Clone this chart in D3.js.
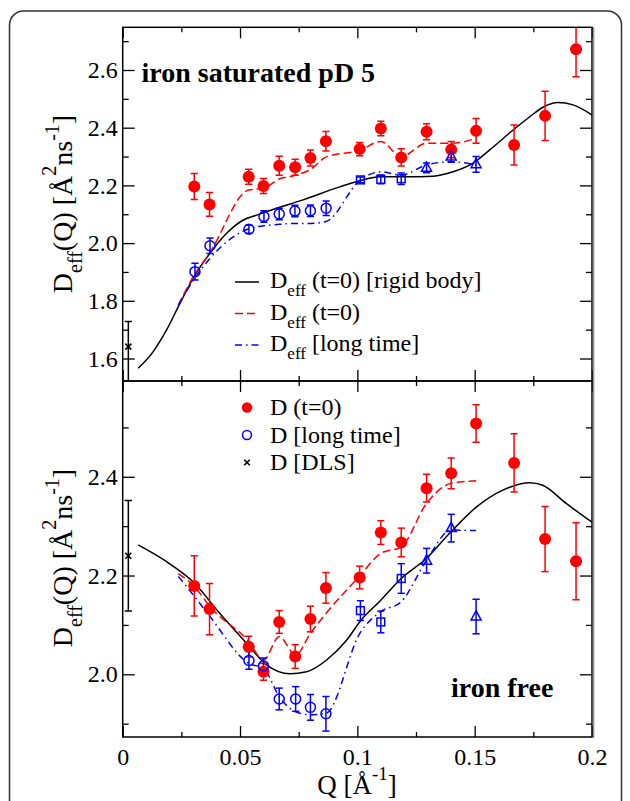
<!DOCTYPE html>
<html><head><meta charset="utf-8">
<script src="https://cdn.jsdelivr.net/npm/d3@7"></script>
<style>
html,body{margin:0;padding:0;background:#fff;}
text{font-family:"Liberation Serif","Times New Roman",serif;fill:#000;}
</style></head>
<body>
<svg id="chart" width="630" height="801"></svg>
<script>
// ---------------- DATA ----------------
// experimental Q values
const qRed = [0.0305,0.037,0.0537,0.060,0.0667,0.0735,0.080,0.0866,0.1010,0.110,0.1187,0.1295,0.140,0.1506,0.1668,0.180,0.1932];
// top panel (iron saturated pD 5)
const topRed = [2.196,2.134,2.230,2.198,2.268,2.263,2.295,2.353,2.326,2.397,2.297,2.386,2.324,2.389,2.340,2.441,2.672];
const topRedErr = [0.045,0.041,0.026,0.026,0.033,0.028,0.028,0.034,0.023,0.025,0.030,0.028,0.028,0.043,0.069,0.085,0.095];
const qCirc = [0.0308,0.0372,0.0538,0.0602,0.0667,0.0734,0.080,0.0867];
const topCirc = [1.901,1.991,2.048,2.092,2.101,2.111,2.112,2.121];
const topCircErr = [0.029,0.027,0.014,0.020,0.020,0.020,0.020,0.025];
const qSq = [0.1013,0.110,0.1187];
const topSq = [2.219,2.221,2.223];
const topSqErr = [0.010,0.015,0.020];
const qTri = [0.1295,0.140,0.1506];
const topTri = [2.261,2.300,2.273];
const topTriErr = [0.017,0.020,0.027];
// bottom panel (iron free)
const botRed = [2.179,2.132,2.056,2.005,2.106,2.036,2.112,2.175,2.196,2.287,2.267,2.377,2.407,2.508,2.428,2.274,2.229];
const botRedErr = [0.061,0.052,0.021,0.017,0.023,0.024,0.026,0.031,0.023,0.024,0.029,0.028,0.031,0.038,0.059,0.066,0.078];
const qCircBot = [0.0538,0.060,0.0667,0.0737,0.080,0.0866];
const botCirc = [2.028,2.017,1.950,1.950,1.933,1.920];
const botCircErr = [0.018,0.016,0.022,0.025,0.026,0.035];
const botSq = [2.129,2.106,2.194];
const botSqErr = [0.020,0.022,0.030];
const botTri = [2.230,2.296,2.117];
const botTriErr = [0.025,0.028,0.035];
// DLS
const qDLS = 0.0024;
const topDLS = 1.641, topDLSErrHi = 0.087, topDLSErrLo = 0.125;
const botDLS = 2.240, botDLSErr = 0.112;

// model curves, top panel
const qRigidTop = [0.0066,0.0130,0.0187,0.0244,0.0308,0.0372,0.0443,0.0514,0.0571,0.0656,0.0762,0.0925,0.1011,0.1096,0.121,0.1323,0.1408,0.1493,0.1564,0.1664,0.1735,0.1791,0.1855,0.1919,0.200];
const rigidTop = [1.566,1.624,1.699,1.791,1.889,1.965,2.034,2.080,2.097,2.121,2.148,2.195,2.216,2.230,2.230,2.232,2.247,2.277,2.323,2.392,2.438,2.471,2.487,2.479,2.444];
const qDashTop = [0.0237,0.0305,0.037,0.0537,0.060,0.0667,0.0735,0.080,0.0866,0.1010,0.110,0.1187,0.1295,0.140,0.1506];
const dashTop = [1.785,1.889,1.965,2.184,2.190,2.222,2.235,2.255,2.298,2.322,2.352,2.300,2.346,2.346,2.363];
const qDotTop = [0.0237,0.0308,0.0372,0.0538,0.0602,0.0667,0.0734,0.080,0.0867,0.1013,0.110,0.1187,0.1295,0.140,0.1506];
const dotTop = [1.785,1.880,1.947,2.050,2.060,2.065,2.068,2.068,2.075,2.219,2.247,2.236,2.271,2.282,2.271];
// model curves, bottom panel
const qRigidBot = [0.0066,0.0187,0.0307,0.0414,0.0528,0.0613,0.0713,0.0783,0.0869,0.0954,0.1013,0.110,0.1187,0.1295,0.140,0.1508,0.162,0.1735,0.179,0.189,0.200];
const rigidBot = [2.262,2.228,2.184,2.123,2.063,2.019,2.001,2.005,2.029,2.069,2.108,2.150,2.194,2.235,2.289,2.339,2.373,2.388,2.383,2.346,2.308];
const qDashBot = [0.0237,0.0307,0.0372,0.0538,0.060,0.0667,0.0737,0.080,0.0866,0.1008,0.110,0.1187,0.1295,0.140,0.1506];
const dashBot = [2.204,2.177,2.137,2.066,2.029,2.076,2.039,2.083,2.123,2.198,2.245,2.258,2.346,2.387,2.392];
const qDotBot = [0.0237,0.0307,0.0372,0.0538,0.060,0.0667,0.0737,0.080,0.0866,0.1013,0.110,0.1187,0.1295,0.140,0.1506];
const dotBot = [2.198,2.157,2.117,2.022,2.012,1.955,1.924,1.918,1.921,2.085,2.127,2.147,2.231,2.292,2.291];

// ticks
const xMajor = [0,0.05,0.1,0.15,0.2], xMinor = [0.025,0.075,0.125,0.175];
const yTopMajor = [1.6,1.8,2.0,2.2,2.4,2.6], yTopMinor = [1.7,1.9,2.1,2.3,2.5,2.7];
const yBotMajor = [2.0,2.2,2.4], yBotMinor = [1.9,2.1,2.3,2.5];

// ---------------- DRAW ----------------
const svg = d3.select("#chart");
const L = 122.7, R = 592, T = 27.3, MID = 381, B = 737;
const x = d3.scaleLinear().domain([0,0.2]).range([L,R]);
const yT = d3.scaleLinear().domain([1.522,2.748]).range([MID,T]);
const yB = d3.scaleLinear().domain([1.873,2.594]).range([B,MID]);
const RED = "#ff0000", BLUE = "#0000ff";

// outer rounded frame
svg.append("rect").attr("x",9.5).attr("y",11).attr("width",612).attr("height",830)
  .attr("rx",14).attr("fill","none").attr("stroke","#333").attr("stroke-width",1.5);

const defs = svg.append("defs");
function panel(id, y, y0, y1, yMaj, yMin, showX){
  defs.append("clipPath").attr("id",id).append("rect")
    .attr("x",L).attr("y",y0).attr("width",R-L).attr("height",y1-y0);
  const g = svg.append("g");
  g.append("g").attr("transform",`translate(${L},0)`)
    .call(d3.axisLeft(y).tickValues(yMaj).tickSize(-12).tickPadding(5).tickFormat(d3.format(".1f")));
  g.append("g").attr("transform",`translate(${L},0)`)
    .call(d3.axisLeft(y).tickValues(yMin).tickSize(-6).tickFormat(""));
  g.append("g").attr("transform",`translate(${R},0)`)
    .call(d3.axisRight(y).tickValues(yMaj).tickSize(-12).tickFormat(""));
  g.append("g").attr("transform",`translate(${R},0)`)
    .call(d3.axisRight(y).tickValues(yMin).tickSize(-6).tickFormat(""));
  g.append("g").attr("transform",`translate(0,${y1})`)
    .call(d3.axisBottom(x).tickValues(xMajor).tickSize(-11).tickPadding(showX?11:0)
      .tickFormat(showX ? (d => d===0 ? "0" : d3.format("")(d)) : ""));
  g.append("g").attr("transform",`translate(0,${y1})`)
    .call(d3.axisBottom(x).tickValues(xMinor).tickSize(-5).tickFormat(""));
  g.append("g").attr("transform",`translate(0,${y0})`)
    .call(d3.axisTop(x).tickValues(xMajor).tickSize(-11).tickFormat(""));
  g.append("g").attr("transform",`translate(0,${y0})`)
    .call(d3.axisTop(x).tickValues(xMinor).tickSize(-5).tickFormat(""));
  g.selectAll(".domain").remove();
  g.selectAll(".tick line").attr("stroke","#000").attr("stroke-width",1.3);
  g.selectAll(".tick text").attr("font-size",24).style("font-family","'Liberation Serif','Times New Roman',serif").attr("fill","#000");
  return svg.append("g").attr("clip-path",`url(#${id})`);
}

function drawLine(g, y, qs, vs, color, dash){
  const line = d3.line().x(d=>x(d[0])).y(d=>y(d[1])).curve(d3.curveMonotoneX);
  g.append("path").datum(qs.map((q,i)=>[q,vs[i]])).attr("d",line)
    .attr("fill","none").attr("stroke",color).attr("stroke-width",1.5)
    .attr("stroke-dasharray",dash||null);
}
function errBars(g, y, qs, vs, es, color, esLo){
  qs.forEach((q,i)=>{
    const cx = x(q), hi = y(vs[i]+es[i]), lo = y(vs[i]-(esLo?esLo[i]:es[i]));
    g.append("line").attr("x1",cx).attr("x2",cx).attr("y1",hi).attr("y2",lo).attr("stroke",color).attr("stroke-width",1.5);
    [hi,lo].forEach(yy=>g.append("line").attr("x1",cx-3.6).attr("x2",cx+3.6).attr("y1",yy).attr("y2",yy).attr("stroke",color).attr("stroke-width",1.5));
  });
}
function filled(g, y, qs, vs){
  g.selectAll(null).data(qs.map((q,i)=>[q,vs[i]])).join("circle")
    .attr("cx",d=>x(d[0])).attr("cy",d=>y(d[1])).attr("r",6).attr("fill",RED);
}
function openCirc(g, y, qs, vs){
  g.selectAll(null).data(qs.map((q,i)=>[q,vs[i]])).join("circle")
    .attr("cx",d=>x(d[0])).attr("cy",d=>y(d[1])).attr("r",5).attr("fill","none").attr("stroke",BLUE).attr("stroke-width",1.5);
}
function squares(g, y, qs, vs){
  g.selectAll(null).data(qs.map((q,i)=>[q,vs[i]])).join("rect")
    .attr("x",d=>x(d[0])-3.9).attr("y",d=>y(d[1])-3.9).attr("width",7.8).attr("height",7.8)
    .attr("fill","none").attr("stroke",BLUE).attr("stroke-width",1.5);
}
function triangles(g, y, qs, vs){
  g.selectAll(null).data(qs.map((q,i)=>[q,vs[i]])).join("path")
    .attr("d",d=>{const cx=x(d[0]),cy=y(d[1]);return `M${cx},${cy-5.8}L${cx+5},${cy+3.4}L${cx-5},${cy+3.4}Z`;})
    .attr("fill","none").attr("stroke",BLUE).attr("stroke-width",1.5);
}
function cross(g, cx, cy, s){
  g.append("path").attr("d",`M${cx-s},${cy-s}L${cx+s},${cy+s}M${cx-s},${cy+s}L${cx+s},${cy-s}`)
    .attr("stroke","#000").attr("stroke-width",1.6);
}

const DASH = "8,4", DOT = "7,4,1.5,4";

// ---- top panel
const gT = panel("clipT", yT, T, MID, yTopMajor, yTopMinor, false);
drawLine(gT, yT, qRigidTop, rigidTop, "#000");
drawLine(gT, yT, qDashTop, dashTop, RED, DASH);
drawLine(gT, yT, qDotTop, dotTop, BLUE, DOT);
errBars(gT, yT, qRed, topRed, topRedErr, RED);
errBars(gT, yT, qCirc, topCirc, topCircErr, BLUE);
errBars(gT, yT, qSq, topSq, topSqErr, BLUE);
errBars(gT, yT, qTri, topTri, topTriErr, BLUE);
errBars(gT, yT, [qDLS], [topDLS], [topDLSErrHi], "#000", [topDLSErrLo]);
filled(gT, yT, qRed, topRed);
openCirc(gT, yT, qCirc, topCirc);
squares(gT, yT, qSq, topSq);
triangles(gT, yT, qTri, topTri);
cross(gT, x(qDLS), yT(topDLS), 3);

// ---- bottom panel
const gB = panel("clipB", yB, MID, B, yBotMajor, yBotMinor, true);
drawLine(gB, yB, qRigidBot, rigidBot, "#000");
drawLine(gB, yB, qDashBot, dashBot, RED, DASH);
drawLine(gB, yB, qDotBot, dotBot, BLUE, DOT);
errBars(gB, yB, qRed, botRed, botRedErr, RED);
errBars(gB, yB, qCircBot, botCirc, botCircErr, BLUE);
errBars(gB, yB, qSq, botSq, botSqErr, BLUE);
errBars(gB, yB, qTri, botTri, botTriErr, BLUE);
errBars(gB, yB, [qDLS], [botDLS], [botDLSErr], "#000");
filled(gB, yB, qRed, botRed);
openCirc(gB, yB, qCircBot, botCirc);
squares(gB, yB, qSq, botSq);
triangles(gB, yB, qTri, botTri);
cross(gB, x(qDLS), yB(botDLS), 3);

// frames
[[T,MID],[MID,B]].forEach(([a,b])=>{
  svg.append("rect").attr("x",L).attr("y",a).attr("width",R-L).attr("height",b-a)
    .attr("fill","none").attr("stroke","#000").attr("stroke-width",1.5);
});
svg.append("line").attr("x1",R+1.6).attr("x2",R+1.6).attr("y1",T).attr("y2",B+1).attr("stroke","#999").attr("stroke-width",1.6);

// titles
svg.append("text").attr("x",141.5).attr("y",81.5).attr("font-size",28).attr("font-weight","bold").text("iron saturated pD 5");
svg.append("text").attr("x",451).attr("y",697).attr("font-size",28).attr("font-weight","bold").text("iron free");

// legend top
const legTop = [
  {sub:"eff", rest:" (t=0) [rigid body]", color:"#000", dash:null},
  {sub:"eff", rest:" (t=0)", color:RED, dash:DASH},
  {sub:"eff", rest:" [long time]", color:BLUE, dash:DOT}
];
legTop.forEach((d,i)=>{
  const by = 288 + i*31.5;
  svg.append("line").attr("x1",235).attr("x2",259).attr("y1",by-6).attr("y2",by-6)
    .attr("stroke",d.color).attr("stroke-width",1.5).attr("stroke-dasharray",d.dash);
  const t = svg.append("text").attr("x",270).attr("y",by).attr("font-size",24);
  t.append("tspan").text("D");
  t.append("tspan").attr("dy",8).attr("font-size",17).text(d.sub);
  t.append("tspan").attr("dy",-8).text(d.rest);
});
// legend bottom
const legBot = ["D (t=0)","D [long time]","D [DLS]"];
legBot.forEach((s,i)=>{
  const by = 415 + i*27.5;
  const cy = by - 7.5;
  if(i===0) svg.append("circle").attr("cx",247).attr("cy",cy).attr("r",5.2).attr("fill",RED);
  if(i===1) svg.append("circle").attr("cx",247).attr("cy",cy).attr("r",4.5).attr("fill","none").attr("stroke",BLUE).attr("stroke-width",1.5);
  if(i===2) cross(svg, 247, cy, 2.8);
  svg.append("text").attr("x",270).attr("y",by).attr("font-size",24).text(s);
});

// axis titles
function yTitle(cy){
  const t = svg.append("text").attr("transform",`translate(72,${cy}) rotate(-90)`)
    .attr("text-anchor","middle").attr("font-size",28);
  t.append("tspan").text("D");
  t.append("tspan").attr("dy",10).attr("font-size",20).text("eff");
  t.append("tspan").attr("dy",-10).text("(Q) [Å");
  t.append("tspan").attr("dy",-16).attr("font-size",20).text("2");
  t.append("tspan").attr("dy",16).text("ns");
  t.append("tspan").attr("dy",-13).attr("font-size",20).text("-1");
  t.append("tspan").attr("dy",13).text("]");
}
yTitle(204);
yTitle(558);
const xt = svg.append("text").attr("x",357).attr("y",794).attr("text-anchor","middle").attr("font-size",27);
xt.append("tspan").text("Q [Å");
xt.append("tspan").attr("dy",-14).attr("font-size",19).text("-1");
xt.append("tspan").attr("dy",14).text("]");
</script>
</body></html>
